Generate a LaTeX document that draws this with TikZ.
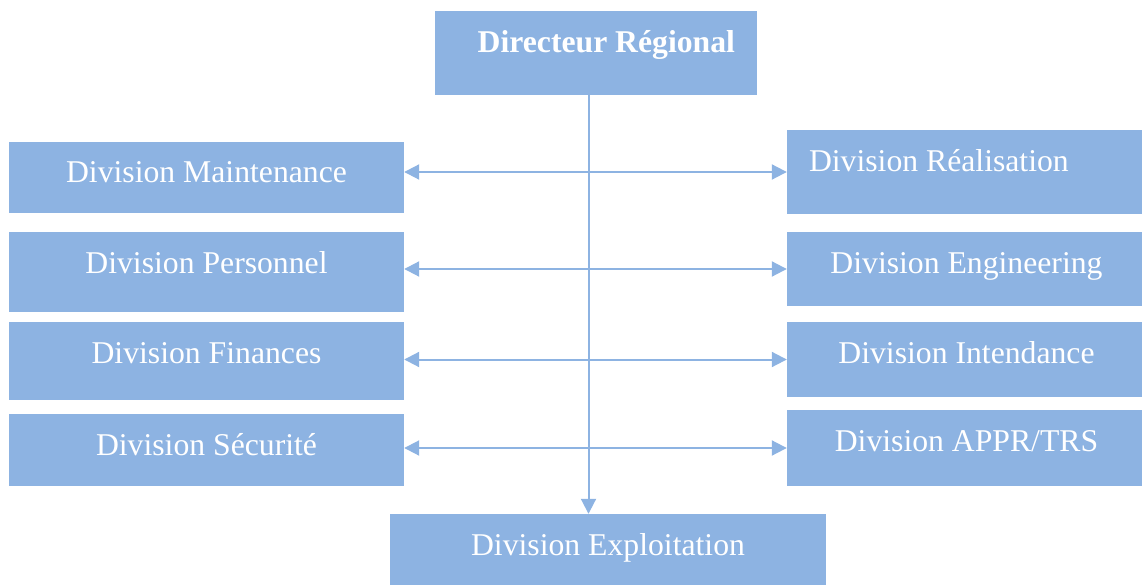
\documentclass[tikz,border=0pt]{standalone}
\usepackage{fontspec}
\setmainfont{Liberation Serif}
\definecolor{DivBlue}{RGB}{141,179,226}
\usetikzlibrary{arrows.meta}

\begin{document}
\begin{tikzpicture}[x=1pt,y=-1pt,
    unit/.style={fill=DivBlue,text=white,inner sep=0pt,
      font=\fontsize{31.7}{38}\selectfont,text height=22pt},
    link/.style={DivBlue,line width=2pt},
    >={Triangle[length=15pt,width=15pt]}]
  \useasboundingbox (0,0) rectangle (1142,585);

  % head and the division at the bottom
  \node[unit,minimum width=322,minimum height=84,text depth=22pt,
        text width=278,inner xsep=22pt,align=flush right,font=\fontsize{31.7}{38}\selectfont\bfseries]
    (dir) at (596,53) {Directeur Régional};
  \node[unit,minimum width=436,minimum height=72,text depth=12pt]
    (expl) at (608,550) {Division Exploitation};

  % left column
  \foreach \nm/\y/\h/\d/\t in {
      maint/177.5/71/11/{Division Maintenance},
      pers/272/80/20/{Division Personnel},
      fin/361/78/18/{Division Finances},
      secu/450/72/12/{Division Sécurité}}{
    \node[unit,minimum width=395,minimum height=\h,text depth=\d pt]
      (\nm) at (206.5,\y) {\t};
  }
  % right column
  \foreach \nm/\y/\h/\d/\al/\t in {
      real/172/84/22/flush left/{Division Réalisation},
      engi/269/74/14/flush center/{Division Engineering},
      inte/359.5/75/15/flush center/{Division Intendance},
      appr/448/76/16/flush center/{Division APPR/TRS}}{
    \node[unit,minimum width=359,minimum height=\h,text depth=\d pt,
          text width=315,inner xsep=22pt,align=\al]
      (\nm) at (966.5,\y) {\t};
  }

  \coordinate (spine) at (588.5,0);
  \draw[link,->] (dir.south -| spine) -- (expl.north -| spine);
  \foreach \l/\r in {maint/real,pers/engi,fin/inte,secu/appr}
    \draw[link,<->] (\l.east |- \r.west) -- (\r.west);
\end{tikzpicture}
\end{document}
